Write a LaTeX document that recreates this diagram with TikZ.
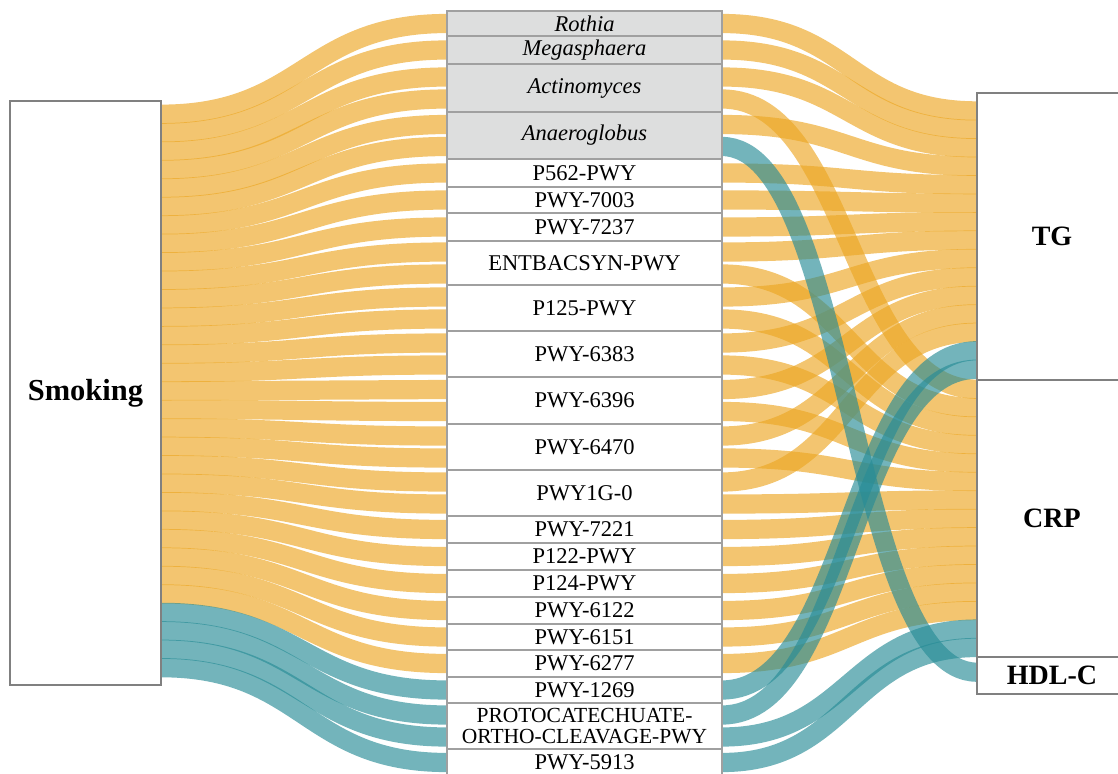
\documentclass[tikz,border=0pt]{standalone}
\usepackage{fontspec}
\setmainfont{Liberation Serif}
\usetikzlibrary{calc}
\pgfdeclarelayer{bg}
\pgfsetlayers{bg,main}
\definecolor{orng}{RGB}{236,166,35}
\definecolor{tealc}{RGB}{40,140,150}
\definecolor{taxon}{RGB}{221,222,222}
\definecolor{bordm}{RGB}{160,160,160}
\definecolor{bordb}{RGB}{128,128,128}
\tikzset{
  mid/.style={draw=bordm, line width=1.3pt, outer sep=0pt, inner sep=0pt, fill=white,
    minimum width=275pt, align=center, font=\fontsize{22.5}{19.5}\selectfont},
  tax/.style={mid, fill=taxon, font=\fontsize{22.5}{19.5}\selectfont\itshape},
  twoline/.style={mid, font=\fontsize{21.5}{21}\selectfont},
  big/.style={draw=bordb, line width=1.8pt, outer sep=0pt, inner sep=0pt, fill=white,
    font=\fontsize{30.5}{34}\selectfont\bfseries},
  outc/.style={big, minimum width=150pt, font=\fontsize{28}{32}\selectfont\bfseries},
  og/.style={draw=orng, draw opacity=0.65, line width=19.2pt},
  tl/.style={draw=tealc, draw opacity=0.65, line width=19.2pt},
}
\newcommand\mnode[5]{\node[#4, minimum height={(#3-#2)*1pt}, anchor=north west] (#1) at (447,#2) {#5};}
\newcommand\rib[5]{%
  \path (#2) ++(0,#3) coordinate (ra);
  \path (#4) ++(0,#5) coordinate (rc);
  \path ($(ra)!0.5!(rc)$) coordinate (rm);
  \draw[#1] (ra) .. controls (rm |- ra) and (rm |- rc) .. (rc);
}
\begin{document}
\begin{tikzpicture}[x=1pt,y=-1pt]
\useasboundingbox (0,0) rectangle (1118,773);
% left node
\node[big, minimum width=151pt, minimum height=584pt, anchor=north west] (smk) at (10,101) {Smoking};
% middle nodes
\mnode{rothia}{11}{36}{tax}{Rothia}
\mnode{mega}{36}{64}{tax}{Megasphaera}
\mnode{actino}{64}{112}{tax}{Actinomyces}
\mnode{anaero}{112}{159}{tax}{Anaeroglobus}
\mnode{p562}{159}{187}{mid}{P562-PWY}
\mnode{p7003}{187}{213}{mid}{PWY-7003}
\mnode{p7237}{213}{241}{mid}{PWY-7237}
\mnode{entb}{241}{285}{mid}{ENTBACSYN-PWY}
\mnode{p125}{285}{331}{mid}{P125-PWY}
\mnode{p6383}{331}{377}{mid}{PWY-6383}
\mnode{p6396}{377}{424}{mid}{PWY-6396}
\mnode{p6470}{424}{470}{mid}{PWY-6470}
\mnode{pwy1g}{470}{516}{mid}{PWY1G-0}
\mnode{p7221}{516}{543}{mid}{PWY-7221}
\mnode{p122}{543}{570}{mid}{P122-PWY}
\mnode{p124}{570}{597}{mid}{P124-PWY}
\mnode{p6122}{597}{624}{mid}{PWY-6122}
\mnode{p6151}{624}{650}{mid}{PWY-6151}
\mnode{p6277}{650}{677}{mid}{PWY-6277}
\mnode{p1269}{677}{703}{mid}{PWY-1269}
\mnode{proto}{703}{749}{twoline}{PROTOCATECHUATE-\\ORTHO-CLEAVAGE-PWY}
\mnode{p5913}{749}{776}{mid}{PWY-5913}
% outcome nodes
\node[outc, minimum height=287pt, anchor=north west] (tg) at (977,93) {TG};
\node[outc, minimum height=277pt, anchor=north west] (crp) at (977,380) {CRP};
\node[outc, minimum height=37pt, anchor=north west] (hdl) at (977,657) {HDL-C};
\begin{pgfonlayer}{bg}
% Smoking -> middle
\foreach \n/\o/\c [count=\i from 0] in {
  rothia/-10/og, mega/-10/og, actino/-21/og, actino/1/og, anaero/-21/og, anaero/1/og,
  p562/-10/og, p7003/-10/og, p7237/-10/og, entb/-21/og, entb/1/og, p125/-21/og, p125/1/og,
  p6383/-21/og, p6383/1/og, p6396/-21/og, p6396/1/og, p6470/-21/og, p6470/1/og,
  pwy1g/-21/og, pwy1g/1/og, p7221/-10/og, p122/-10/og, p124/-10/og, p6122/-10/og,
  p6151/-10/og, p6277/-10/og, p1269/-10/tl, proto/-21/tl, proto/1/tl, p5913/-10/tl}
  {\rib{\c}{smk.north east}{13.2+18.45*\i}{\n.west}{\o+10}}
% middle -> outcomes
\foreach \n/\o/\t/\bs/\k/\c in {
  rothia/-10/tg/8.7/0/og, mega/-10/tg/8.7/1/og, actino/-21/tg/8.7/2/og,
  anaero/-21/tg/8.7/3/og, p562/-10/tg/8.7/4/og, p7003/-10/tg/8.7/5/og,
  p7237/-10/tg/8.7/6/og, entb/-21/tg/8.7/7/og, p125/-21/tg/8.7/8/og,
  p6383/-21/tg/8.7/9/og, p6396/-21/tg/8.7/10/og, p6470/-21/tg/8.7/11/og,
  pwy1g/-21/tg/8.7/12/og,
  actino/1/crp/0/0/og, entb/1/crp/0/1/og, p125/1/crp/0/2/og, p6383/1/crp/0/3/og,
  p6396/1/crp/0/4/og, p6470/1/crp/0/5/og, pwy1g/1/crp/0/6/og, p7221/-10/crp/0/7/og,
  p122/-10/crp/0/8/og, p124/-10/crp/0/9/og, p6122/-10/crp/0/10/og,
  p6151/-10/crp/0/11/og, p6277/-10/crp/0/12/og,
  p1269/-10/tg/8.7/13/tl, proto/-21/tg/8.7/14/tl,
  proto/1/crp/0/13/tl, p5913/-10/crp/0/14/tl,
  anaero/1/hdl/6/0/tl}
  {\rib{\c}{\n.east}{\o+10}{\t.north west}{\bs+9.2+18.45*\k}}
\end{pgfonlayer}
\end{tikzpicture}
\end{document}
